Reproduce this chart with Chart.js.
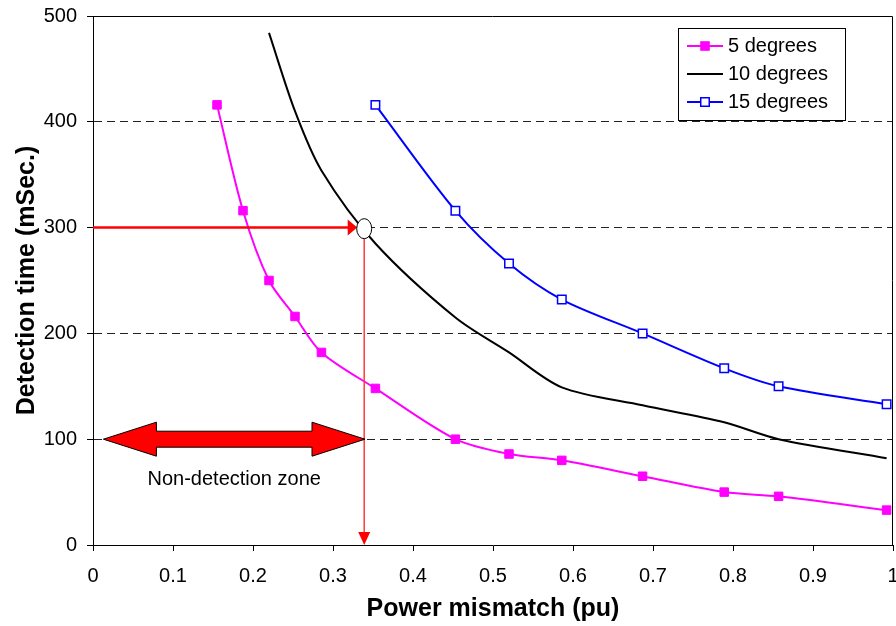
<!DOCTYPE html>
<html><head><meta charset="utf-8">
<script src="https://cdn.jsdelivr.net/npm/chart.js@4"></script>
<style>html,body{margin:0;padding:0;background:#fff}canvas{display:block}</style>
</head><body>
<canvas id="c" width="896" height="626"></canvas>
<script>
// ---- data ----
const seriesLabels = ['5 degrees', '10 degrees', '15 degrees'];
const x5  = [0.155, 0.1875, 0.22, 0.2525, 0.2855, 0.353, 0.453, 0.52, 0.586, 0.687, 0.789, 0.857, 0.992];
const y5  = [416, 316, 250, 216, 182, 148, 100, 86, 80, 65, 50, 46, 33];
const x10 = [0.22, 0.2525, 0.2855, 0.353, 0.453, 0.52, 0.586, 0.687, 0.789, 0.857, 0.992];
const y10 = [484, 410, 354, 285, 215, 182, 149, 132, 116, 100, 82];
const x15 = [0.353, 0.453, 0.52, 0.586, 0.687, 0.789, 0.857, 0.992];
const y15 = [416, 316, 266, 232, 200, 167, 150, 133];
const xTickLabels = ['0', '0.1', '0.2', '0.3', '0.4', '0.5', '0.6', '0.7', '0.8', '0.9', '1'];
const yTickLabels = ['0', '100', '200', '300', '400', '500'];
const xTitle = 'Power mismatch (pu)';
const yTitle = 'Detection time (mSec.)';
const zoneLabel = 'Non-detection zone';
const zoneFrom = 0.013, zoneTo = 0.34, zoneLevel = 100;
const opX = 0.339, opY = 299, opLevel = 300;

const FONT = '"Liberation Sans", Arial, Helvetica, sans-serif';
const toPts = (xs, ys) => xs.map((x, i) => ({x: x, y: ys[i]}));
const noPad = () => ({left: 0, top: 0, right: 0, bottom: 0});

const overlay = {
  id: 'overlay',
  afterDatasetsDraw(chart) {
    const ctx = chart.ctx, a = chart.chartArea, xs = chart.scales.x, ys = chart.scales.y;
    ctx.save();
    // plot frame: top and right sides
    ctx.strokeStyle = '#000'; ctx.lineWidth = 1;
    ctx.beginPath();
    ctx.moveTo(a.left, a.top + 0.5); ctx.lineTo(a.right - 0.5, a.top + 0.5); ctx.lineTo(a.right - 0.5, a.bottom);
    ctx.stroke();

    // operating point with red guide arrows
    const cx = xs.getPixelForValue(opX), cy = ys.getPixelForValue(opY);
    const ly = ys.getPixelForValue(opLevel);
    const rx = 7.5, ry = 10;
    ctx.strokeStyle = '#ff0000'; ctx.lineWidth = 2.5;
    ctx.beginPath(); ctx.moveTo(a.left, ly); ctx.lineTo(cx - rx - 8, ly); ctx.stroke();
    ctx.fillStyle = '#ff0000';
    ctx.beginPath(); ctx.moveTo(cx - rx + 0.5, ly); ctx.lineTo(cx - rx - 9, ly - 8); ctx.lineTo(cx - rx - 9, ly + 8); ctx.closePath(); ctx.fill();
    const y0 = ys.getPixelForValue(0);
    ctx.strokeStyle = '#ff3b3b'; ctx.lineWidth = 1.5;
    ctx.beginPath(); ctx.moveTo(cx, cy + ry); ctx.lineTo(cx, y0 - 12); ctx.stroke();
    ctx.fillStyle = '#ff0000';
    ctx.beginPath(); ctx.moveTo(cx, y0); ctx.lineTo(cx - 6, y0 - 13); ctx.lineTo(cx + 6, y0 - 13); ctx.closePath(); ctx.fill();
    ctx.beginPath(); ctx.ellipse(cx, cy, rx, ry, 0, 0, 2 * Math.PI);
    ctx.fillStyle = '#fff'; ctx.fill(); ctx.strokeStyle = '#000'; ctx.lineWidth = 1; ctx.stroke();

    // double block arrow (non-detection zone)
    const x1 = xs.getPixelForValue(zoneFrom), x2 = xs.getPixelForValue(zoneTo), zy = ys.getPixelForValue(zoneLevel);
    const hl = 53, hh = 17, sh = 8;
    ctx.beginPath();
    ctx.moveTo(x1, zy); ctx.lineTo(x1 + hl, zy - hh); ctx.lineTo(x1 + hl, zy - sh); ctx.lineTo(x2 - hl, zy - sh);
    ctx.lineTo(x2 - hl, zy - hh); ctx.lineTo(x2, zy); ctx.lineTo(x2 - hl, zy + hh); ctx.lineTo(x2 - hl, zy + sh);
    ctx.lineTo(x1 + hl, zy + sh); ctx.lineTo(x1 + hl, zy + hh); ctx.closePath();
    ctx.fillStyle = '#ff0000'; ctx.fill(); ctx.strokeStyle = '#000'; ctx.lineWidth = 1; ctx.stroke();
    ctx.font = '20px ' + FONT; ctx.fillStyle = '#000'; ctx.textAlign = 'center'; ctx.textBaseline = 'alphabetic';
    ctx.fillText(zoneLabel, (x1 + x2) / 2, zy + 46);
    ctx.restore();
  },
  afterDraw(chart) {
    const ctx = chart.ctx;
    ctx.save();
    const bx = 678.5, by = 28.5, bw = 167, bh = 92;
    ctx.fillStyle = '#fff'; ctx.fillRect(bx, by, bw, bh);
    ctx.strokeStyle = '#000'; ctx.lineWidth = 1; ctx.strokeRect(bx, by, bw, bh);
    ctx.font = '20px ' + FONT; ctx.textAlign = 'left'; ctx.textBaseline = 'middle';
    chart.data.datasets.forEach((ds, i) => {
      const ry = 46 + i * 28;
      ctx.strokeStyle = ds.borderColor; ctx.lineWidth = 2;
      ctx.beginPath(); ctx.moveTo(687, ry); ctx.lineTo(723, ry); ctx.stroke();
      if (ds.pointRadius > 0) {
        const s = 8.5;
        ctx.fillStyle = ds.pointBackgroundColor;
        ctx.fillRect(705 - s / 2, ry - s / 2, s, s);
        ctx.strokeStyle = ds.pointBorderColor; ctx.lineWidth = ds.pointBorderWidth;
        ctx.strokeRect(705 - s / 2, ry - s / 2, s, s);
      }
      ctx.fillStyle = '#000';
      ctx.fillText(ds.label, 728, ry);
    });
    ctx.restore();
  }
};

new Chart(document.getElementById('c'), {
  type: 'line',
  data: {
    datasets: [
      { label: seriesLabels[0], data: toPts(x5, y5), borderColor: '#ff00ff', backgroundColor: '#ff00ff',
        borderWidth: 2, tension: 0.3, pointStyle: 'rect', pointRadius: 6, pointHoverRadius: 6, pointBackgroundColor: '#ff00ff',
        pointBorderColor: '#ff00ff', pointBorderWidth: 1, clip: false },
      { label: seriesLabels[1], data: toPts(x10, y10), borderColor: '#000000', backgroundColor: '#000000',
        borderWidth: 2, tension: 0.3, pointRadius: 0, pointHoverRadius: 0, pointBackgroundColor: '#000', pointBorderColor: '#000', pointBorderWidth: 0, clip: false },
      { label: seriesLabels[2], data: toPts(x15, y15), borderColor: '#0000ff', backgroundColor: '#0000ff',
        borderWidth: 2, tension: 0.3, pointStyle: 'rect', pointRadius: 6, pointHoverRadius: 6, pointBackgroundColor: '#ffffff',
        pointBorderColor: '#0000ff', pointBorderWidth: 1.5, clip: false }
    ]
  },
  options: {
    responsive: false, animation: false, devicePixelRatio: 1,
    layout: { autoPadding: false, padding: { left: 0, right: 3, top: 16, bottom: 0 } },
    plugins: { legend: { display: false }, tooltip: { enabled: false } },
    scales: {
      x: {
        type: 'linear', min: 0, max: 1,
        ticks: { stepSize: 0.1, padding: 13, color: '#000', font: { family: FONT, size: 20 },
                 maxRotation: 0, autoSkip: false, callback: (v, i) => xTickLabels[i] },
        grid: { drawOnChartArea: false, drawTicks: true, tickLength: 6, tickColor: '#000', tickWidth: 1 },
        border: { display: true, color: '#000', width: 1 },
        title: { display: true, text: xTitle, color: '#000', font: { family: FONT, size: 25, weight: 'bold' },
                 padding: { top: 0, bottom: 2 } },
        afterFit(s) { s.height = 81; s.paddingLeft = 0; s.paddingRight = 0; s.getPadding = noPad; }
      },
      y: {
        type: 'linear', min: 0, max: 500,
        ticks: { stepSize: 100, padding: 10, color: '#000', font: { family: FONT, size: 20 },
                 callback: (v, i) => yTickLabels[i] },
        grid: { color: c => (c.tick && (c.tick.value === 0 || c.tick.value === 500)) ? 'rgba(0,0,0,0)' : '#222',
                lineWidth: 1, drawTicks: true, tickLength: 6, tickColor: '#000', tickWidth: 1, tickBorderDash: [] },
        border: { display: true, color: '#000', width: 1, dash: [8, 5] },
        title: { display: true, text: yTitle, color: '#000', font: { family: FONT, size: 25, weight: 'bold' },
                 padding: { top: 12, bottom: 0 } },
        afterFit(s) { s.width = 93; s.paddingTop = 0; s.paddingBottom = 0; s.getPadding = noPad; }
      }
    }
  },
  plugins: [overlay]
});
</script>
</body></html>
